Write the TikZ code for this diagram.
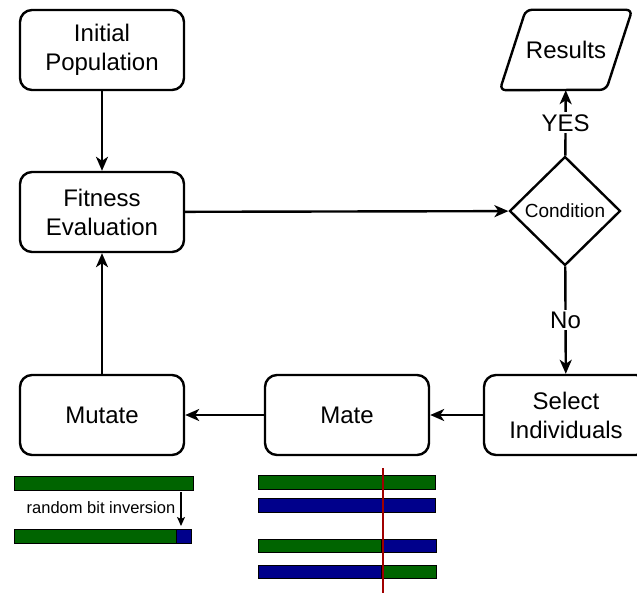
\documentclass[tikz,border=0pt]{standalone}
\usepackage{fontspec}
\setmainfont{Liberation Sans}
\usetikzlibrary{shapes.geometric,arrows.meta}
\definecolor{bargreen}{HTML}{006400}
\definecolor{barblue}{HTML}{00008B}
\definecolor{cutred}{HTML}{A00000}
\tikzset{
  box/.style={draw, line width=2.4pt, rounded corners=12pt, minimum width=164pt,
    minimum height=80pt, align=center, font=\fontsize{24}{29}\selectfont},
  flow/.style={line width=2.4pt, -{Stealth[length=14pt,width=12pt,inset=4pt]}},
  bar/.style={draw=black, line width=0.9pt},
  lbl/.style={font=\fontsize{24}{28}\selectfont, fill=white, inner sep=2pt}
}
\begin{document}
\begin{tikzpicture}[x=1pt,y=-1pt]
\useasboundingbox (0,0) rectangle (637,594);
% process boxes
\node[box] (init) at (102,50) {Initial\\Population};
\node[box] (fit) at (102,212) {Fitness\\Evaluation};
\node[box] (mut) at (102,415) {Mutate};
\node[box] (mate) at (347,415) {Mate};
\node[box] (sel) at (566,415) {Select\\Individuals};
% decision
\node[draw, line width=2.4pt, diamond, minimum width=111pt, minimum height=109pt,
  inner sep=0pt, font=\fontsize{19}{22}\selectfont] (cond) at (565,211) {Condition};
% output: a parallelogram drawn round an invisible node
\node[minimum width=132pt, minimum height=80pt, inner sep=0pt,
  font=\fontsize{24}{28}\selectfont] (res) at (566,50) {Results};
\draw[line width=2.4pt, rounded corners=6pt]
  (res.north west) ++(26,0) -- (res.north east) -- ++(-26,80) -- (res.south west) -- cycle;
% connectors
\draw[flow] (init) -- (fit);
\draw[flow] (fit) -- (cond);
\draw[flow] (cond) -- node[lbl] {No} (sel);
\draw[flow] (cond) -- node[lbl] {YES} (res);
\draw[flow] (sel) -- (mate);
\draw[flow] (mate) -- (mut);
\draw[flow] (mut) -- (fit);
% mutation bars
\draw[bar, fill=bargreen] (14,476) rectangle (193,490);
\draw[bar, fill=bargreen] (14,529) rectangle (176,543);
\draw[bar, fill=barblue] (176,529) rectangle (191,543);
\node[font=\fontsize{16.5}{19}\selectfont, inner sep=0pt] (rbi) at (101,508) {random bit inversion};
\coordinate (mtop) at (181,492);
\coordinate (mbot) at (181,526);
\draw[line width=1.4pt, -{Stealth[length=9pt,width=8pt,inset=2pt]}] (mtop) -- (mbot);
% crossover bars
\draw[bar, fill=bargreen] (258,475) rectangle (435,489);
\draw[bar, fill=barblue] (258,498) rectangle (435,512);
\draw[bar, fill=bargreen] (258,539) rectangle (381,552);
\draw[bar, fill=barblue] (381,539) rectangle (436,552);
\draw[bar, fill=barblue] (258,565) rectangle (381,578);
\draw[bar, fill=bargreen] (381,565) rectangle (436,578);
\coordinate (cuttop) at (383,468);
\coordinate (cutbot) at (383,593);
\draw[cutred, line width=2.2pt] (cuttop) -- (cutbot);
\end{tikzpicture}
\end{document}
